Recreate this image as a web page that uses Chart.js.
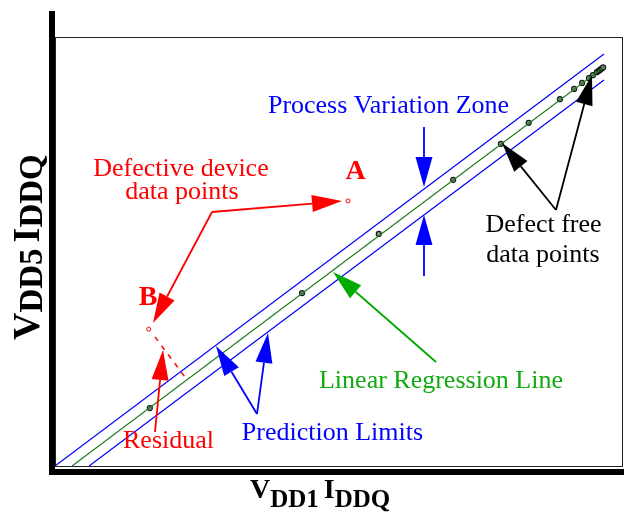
<!DOCTYPE html>
<html><head><meta charset="utf-8">
<script src="https://cdn.jsdelivr.net/npm/chart.js@4.4.0/dist/chart.umd.min.js"></script>
<style>html,body{margin:0;padding:0;background:#fff;}#wrap{width:624px;height:519px;position:relative;}</style>
</head><body><div id="wrap"><canvas id="c" width="624" height="519"></canvas></div>
<script>
// ---- data (arbitrary units, axis 0..100) ----
const defectFreeX = [16.7, 43.5, 57.0, 70.1, 78.5, 83.4, 88.9, 91.4, 92.8, 94.0, 94.7, 95.4, 95.7, 95.9, 96.1, 96.3, 96.5];
const defectFreeY = [13.5, 40.3, 54.1, 66.7, 75.1, 80.0, 85.5, 87.9, 89.3, 90.4, 91.1, 91.8, 92.1, 92.3, 92.5, 92.7, 92.9];
const defectiveX = [51.6, 16.5];   // A, B
const defectiveY = [61.8, 31.9];
const regressionX = [3.0, 96.65];
const regressionY = [0.0, 93.0];
const upperLimitX = [0.0, 96.65];
const upperLimitY = [0.0, 96.04];
const lowerLimitX = [6.0, 96.65];
const lowerLimitY = [0.0, 89.98];
const residualX = [17.6, 22.9];
const residualY = [30.1, 20.7];

const pts = (xs, ys) => xs.map((x, i) => ({x, y: ys[i]}));
const SERIF = '"Liberation Serif", "DejaVu Serif", serif';

function arrow(ctx, x1, y1, x2, y2, color, lw) {
  const L = 30, H = 8.5;
  const a = Math.atan2(y2 - y1, x2 - x1);
  const bx = x2 - L * Math.cos(a), by = y2 - L * Math.sin(a);
  ctx.save();
  ctx.strokeStyle = color; ctx.fillStyle = color; ctx.lineWidth = lw || 1.8;
  ctx.beginPath(); ctx.moveTo(x1, y1); ctx.lineTo(bx, by); ctx.stroke();
  ctx.beginPath();
  ctx.moveTo(x2, y2);
  ctx.lineTo(bx + H * Math.sin(a), by - H * Math.cos(a));
  ctx.lineTo(bx - H * Math.sin(a), by + H * Math.cos(a));
  ctx.closePath(); ctx.fill();
  ctx.restore();
}
function text(ctx, s, x, y, color, font) {
  ctx.save(); ctx.fillStyle = color; ctx.font = font; ctx.textAlign = 'center'; ctx.textBaseline = 'alphabetic';
  ctx.fillText(s, x, y); ctx.restore();
}
function subLabel(ctx, parts) {
  let x = 0;
  ctx.fillStyle = '#000'; ctx.textAlign = 'left'; ctx.textBaseline = 'alphabetic';
  parts.forEach(p => {
    if (p.gap) { x += p.gap; return; }
    ctx.font = 'bold ' + p.size + 'px ' + SERIF;
    ctx.fillText(p.t, x, p.dy);
    x += ctx.measureText(p.t).width;
  });
}

const overlay = {
  id: 'overlay',
  beforeDraw(chart) {
    const ctx = chart.ctx; ctx.save(); ctx.fillStyle = '#fff'; ctx.fillRect(0, 0, chart.width, chart.height); ctx.restore();
  },
  afterDraw(chart) {
    const ctx = chart.ctx, a = chart.chartArea;
    ctx.save();
    // frame
    ctx.strokeStyle = '#222'; ctx.lineWidth = 1;
    ctx.strokeRect(a.left + 0.5, a.top + 0.5, a.right - a.left - 1, a.bottom - a.top);
    ctx.fillStyle = '#000';
    ctx.fillRect(a.left - 6, a.top - 26, 6, a.bottom - a.top + 35);
    ctx.fillRect(a.left - 6, a.bottom + 3, chart.width - a.left + 6, 6);
    ctx.restore();

    const F = '26px ' + SERIF;
    // texts
    text(ctx, 'Process Variation Zone', 388.5, 113, '#0000ff', F);
    text(ctx, 'Defective device', 181, 176, '#ff0000', F);
    text(ctx, 'data points', 182, 199, '#ff0000', F);
    text(ctx, 'A', 355.5, 179, '#ff0000', 'bold 28px ' + SERIF);
    text(ctx, 'B', 148, 305, '#ff0000', 'bold 28px ' + SERIF);
    text(ctx, 'Defect free', 543.5, 232, '#000', F);
    text(ctx, 'data points', 543, 262, '#000', F);
    text(ctx, 'Linear Regression Line', 441, 388, '#11aa11', F);
    text(ctx, 'Prediction Limits', 332.5, 440, '#0000ff', F);
    text(ctx, 'Residual', 168.5, 448, '#ff0000', F);

    // arrows
    arrow(ctx, 212, 212, 342, 201, '#ff0000');
    arrow(ctx, 212, 212, 153, 323, '#ff0000');
    arrow(ctx, 155, 432, 163, 350, '#ff0000');
    arrow(ctx, 424, 127, 424, 187, '#0000ff');
    arrow(ctx, 424, 276, 424, 215, '#0000ff');
    arrow(ctx, 257, 414, 216, 346, '#0000ff');
    arrow(ctx, 257, 414, 268, 333, '#0000ff');
    arrow(ctx, 436, 362, 333, 272, '#00aa00');
    arrow(ctx, 556, 210, 502, 143, '#000');
    arrow(ctx, 556, 210, 592, 75, '#000');

    // axis titles
    ctx.save();
    ctx.translate(250, 498);
    subLabel(ctx, [{t:'V', size:28, dy:0}, {t:'DD1', size:25, dy:9}, {gap:5}, {t:'I', size:28, dy:0}, {t:'DDQ', size:25, dy:9}]);
    ctx.restore();
    ctx.save();
    ctx.translate(39, 340); ctx.rotate(-Math.PI / 2);
    subLabel(ctx, [{t:'V', size:38, dy:0}, {t:'DD5', size:33, dy:3}, {gap:6}, {t:'I', size:38, dy:0}, {t:'DDQ', size:33, dy:3}]);
    ctx.restore();
  }
};

new Chart(document.getElementById('c'), {
  type: 'scatter',
  data: {
    datasets: [
      {label: 'Upper prediction limit', data: pts(upperLimitX, upperLimitY), showLine: true, borderColor: '#0000ff', borderWidth: 1.2, pointRadius: 0},
      {label: 'Lower prediction limit', data: pts(lowerLimitX, lowerLimitY), showLine: true, borderColor: '#0000ff', borderWidth: 1.2, pointRadius: 0},
      {label: 'Linear regression', data: pts(regressionX, regressionY), showLine: true, borderColor: '#1f7f1f', borderWidth: 1.2, pointRadius: 0},
      {label: 'Residual', data: pts(residualX, residualY), showLine: true, borderColor: '#ff0000', borderWidth: 1.5, borderDash: [5, 6], pointRadius: 0},
      {label: 'Defect free', data: pts(defectFreeX, defectFreeY), pointRadius: 2.5, pointBorderWidth: 1.2, borderColor: '#1a1a1a', backgroundColor: '#7a9a7a'},
      {label: 'Defective', data: pts(defectiveX, defectiveY), pointRadius: 2, pointBorderWidth: 1, borderColor: '#ff0000', backgroundColor: '#fff'}
    ]
  },
  options: {
    responsive: false, animation: false, devicePixelRatio: 1,
    layout: {autoPadding: false, padding: {left: 55, top: 37, right: 1, bottom: 53}},
    scales: {
      x: {type: 'linear', min: 0, max: 100, display: false},
      y: {type: 'linear', min: 0, max: 100, display: false}
    },
    plugins: {legend: {display: false}, tooltip: {enabled: false}}
  },
  plugins: [overlay]
});
</script></body></html>
